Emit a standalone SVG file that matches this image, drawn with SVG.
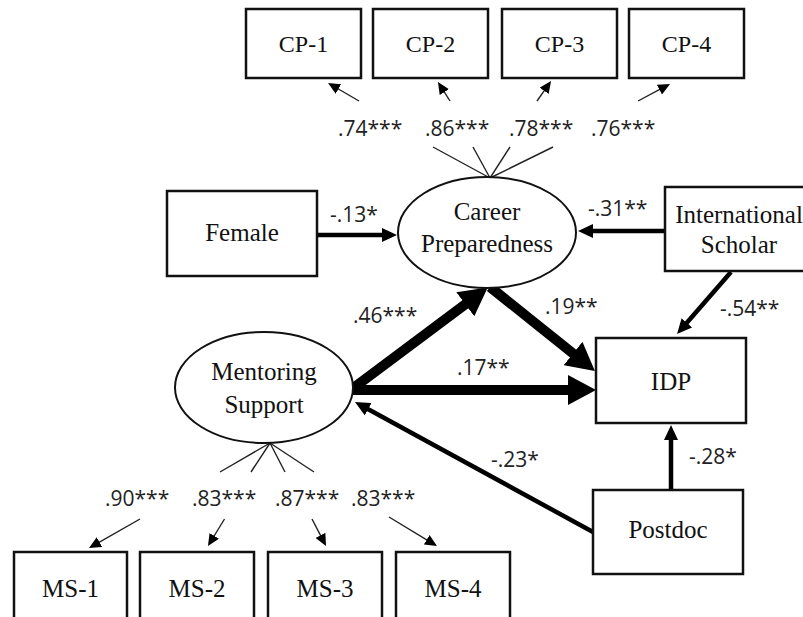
<svg xmlns="http://www.w3.org/2000/svg" width="803" height="617" viewBox="0 0 803 617">
<style>
.box{fill:#fff;stroke:#111;stroke-width:2.5}
.ell{fill:#fff;stroke:#111;stroke-width:2}
.nt{font-family:"Liberation Serif","Times New Roman",serif;font-size:25px;fill:#111;text-anchor:middle}
.it{font-family:"Liberation Serif","Times New Roman",serif;font-size:24px;fill:#111;text-anchor:middle}
.lb{font-family:"Open Sans","Liberation Sans",sans-serif;font-size:21px;fill:#222}
.thin{stroke:#222;stroke-width:1.4;fill:none}
.med{stroke:#000;stroke-width:4.5;fill:none}
.big{stroke:#000;stroke-width:10;fill:none}
</style>
<defs>
<marker id="aS" markerUnits="userSpaceOnUse" markerWidth="12" markerHeight="11" viewBox="0 0 12 11" refX="2" refY="5.5" orient="auto"><path d="M0,0 L12,5.5 L0,11 z" fill="#000"/></marker>
<marker id="aM" markerUnits="userSpaceOnUse" markerWidth="15" markerHeight="14" viewBox="0 0 15 14" refX="3" refY="7" orient="auto"><path d="M0,0 L15,7 L0,14 z" fill="#000"/></marker>
<marker id="aB" markerUnits="userSpaceOnUse" markerWidth="28" markerHeight="30" viewBox="0 0 28 30" refX="3" refY="15" orient="auto"><path d="M0,0 L28,15 L0,30 z" fill="#000"/></marker>
</defs>
<rect width="803" height="617" fill="#fff"/>
<g id="connectors">
<line class="thin" x1="490" y1="178" x2="433" y2="147"/>
<line class="thin" x1="490" y1="178" x2="473" y2="147"/>
<line class="thin" x1="490" y1="178" x2="510" y2="147"/>
<line class="thin" x1="490" y1="178" x2="553" y2="147"/>
<line class="thin" x1="270" y1="443" x2="220" y2="472"/>
<line class="thin" x1="270" y1="443" x2="251" y2="472"/>
<line class="thin" x1="270" y1="443" x2="285" y2="472"/>
<line class="thin" x1="270" y1="443" x2="314" y2="472"/>
<line class="thin" x1="359" y1="101" x2="336.7" y2="88" marker-end="url(#aS)"/>
<line class="thin" x1="450" y1="101" x2="443.3" y2="90.4" marker-end="url(#aS)"/>
<line class="thin" x1="537" y1="101" x2="545.3" y2="89.2" marker-end="url(#aS)"/>
<line class="thin" x1="638" y1="101" x2="661.2" y2="88.7" marker-end="url(#aS)"/>
<line class="thin" x1="140" y1="519" x2="97.7" y2="543.1" marker-end="url(#aS)"/>
<line class="thin" x1="224.5" y1="519" x2="213.2" y2="537.5" marker-end="url(#aS)"/>
<line class="thin" x1="312" y1="519" x2="321.4" y2="537.1" marker-end="url(#aS)"/>
<line class="thin" x1="389" y1="517" x2="428.4" y2="540.8" marker-end="url(#aS)"/>
<line class="med" x1="317" y1="235" x2="385" y2="235" marker-end="url(#aM)"/>
<line class="med" x1="665" y1="231" x2="590" y2="231" marker-end="url(#aM)"/>
<line class="med" x1="731" y1="272" x2="684.9" y2="325" marker-end="url(#aM)"/>
<line class="med" x1="593" y1="532" x2="365.5" y2="407.75" marker-end="url(#aM)"/>
<line class="med" x1="671" y1="490" x2="671" y2="437" marker-end="url(#aM)"/>
<line class="big" x1="352" y1="389" x2="467.7" y2="302.5" marker-end="url(#aB)"/>
<line class="big" x1="490" y1="287" x2="575.4" y2="355.4" marker-end="url(#aB)"/>
<line class="big" x1="352" y1="390" x2="571" y2="390" marker-end="url(#aB)"/>
</g>
<g id="labels">
<text class="lb" x="338" y="136">.74***</text>
<text class="lb" x="425" y="136">.86***</text>
<text class="lb" x="509" y="136">.78***</text>
<text class="lb" x="591" y="136">.76***</text>
<text class="lb" x="105" y="506">.90***</text>
<text class="lb" x="192" y="506">.83***</text>
<text class="lb" x="275" y="506">.87***</text>
<text class="lb" x="351" y="506">.83***</text>
<text class="lb" x="330" y="222">-.13*</text>
<text class="lb" x="588" y="216">-.31**</text>
<text class="lb" x="720" y="316">-.54**</text>
<text class="lb" x="545" y="314">.19**</text>
<text class="lb" x="353" y="323">.46***</text>
<text class="lb" x="457" y="375">.17**</text>
<text class="lb" x="491" y="467">-.23*</text>
<text class="lb" x="689" y="464">-.28*</text>
</g>
<g id="cp1"><rect class="box" x="246" y="9" width="115" height="69"/><text class="it" x="303.5" y="52">CP-1</text></g>
<g id="cp2"><rect class="box" x="373" y="9" width="115" height="69"/><text class="it" x="430.5" y="52">CP-2</text></g>
<g id="cp3"><rect class="box" x="502" y="9" width="115" height="69"/><text class="it" x="559.5" y="52">CP-3</text></g>
<g id="cp4"><rect class="box" x="629" y="9" width="115" height="69"/><text class="it" x="686.5" y="52">CP-4</text></g>
<g id="female"><rect class="box" x="167" y="191" width="150" height="85"/><text class="nt" x="242" y="241">Female</text></g>
<g id="career"><ellipse class="ell" cx="487" cy="232.5" rx="89" ry="55.5"/><text class="nt" x="487" y="220">Career</text><text class="nt" x="487" y="252">Preparedness</text></g>
<g id="international"><rect class="box" x="665" y="187" width="150" height="84"/><text class="nt" x="739" y="223">International</text><text class="nt" x="739" y="253">Scholar</text></g>
<g id="idp"><rect class="box" x="596" y="338" width="150" height="85"/><text class="nt" x="671" y="390">IDP</text></g>
<g id="mentoring"><ellipse class="ell" cx="264" cy="387.5" rx="89" ry="55.5"/><text class="nt" x="264" y="380">Mentoring</text><text class="nt" x="264" y="413">Support</text></g>
<g id="postdoc"><rect class="box" x="593" y="490" width="150" height="84"/><text class="nt" x="668" y="538">Postdoc</text></g>
<g id="ms1"><rect class="box" x="14" y="552" width="113" height="70"/><text class="nt" x="70.5" y="597">MS-1</text></g>
<g id="ms2"><rect class="box" x="140" y="552" width="114" height="70"/><text class="nt" x="197" y="597">MS-2</text></g>
<g id="ms3"><rect class="box" x="268" y="552" width="114" height="70"/><text class="nt" x="325" y="597">MS-3</text></g>
<g id="ms4"><rect class="box" x="396" y="552" width="114" height="70"/><text class="nt" x="453" y="597">MS-4</text></g>
</svg>
